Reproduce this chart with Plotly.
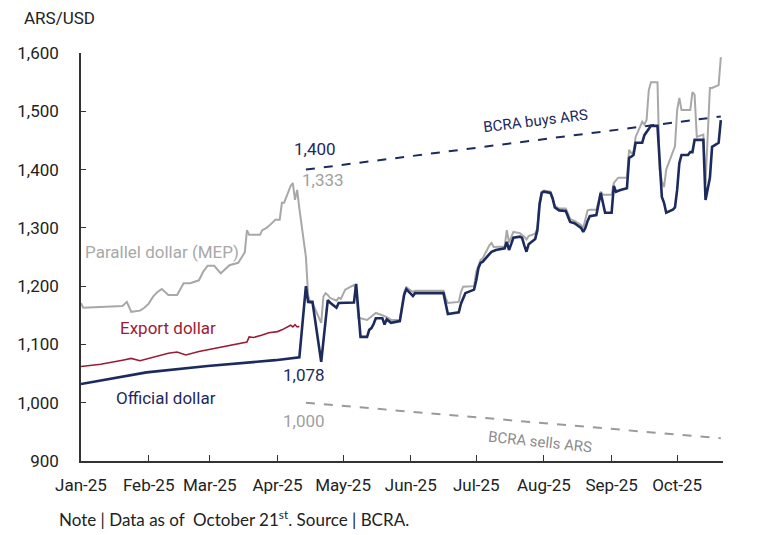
import plotly.graph_objects as go

# official (wholesale) dollar, ARS per USD
official_dates = [
    "2025-01-01", "2025-01-31", "2025-02-28", "2025-03-31", "2025-04-11", "2025-04-14",
    "2025-04-15", "2025-04-17", "2025-04-21", "2025-04-24", "2025-04-25", "2025-04-28",
    "2025-04-29", "2025-05-06", "2025-05-07", "2025-05-09", "2025-05-12", "2025-05-13",
    "2025-05-14", "2025-05-15", "2025-05-16", "2025-05-19", "2025-05-20", "2025-05-21",
    "2025-05-22", "2025-05-23", "2025-05-27", "2025-05-28", "2025-05-29", "2025-05-30",
    "2025-06-02", "2025-06-03", "2025-06-16", "2025-06-17", "2025-06-18", "2025-06-23",
    "2025-06-24", "2025-06-26", "2025-06-30", "2025-07-01", "2025-07-02", "2025-07-03",
    "2025-07-04", "2025-07-07", "2025-07-08", "2025-07-10", "2025-07-14", "2025-07-15",
    "2025-07-16", "2025-07-17", "2025-07-18", "2025-07-21", "2025-07-22", "2025-07-23",
    "2025-07-24", "2025-07-25", "2025-07-28", "2025-07-29", "2025-07-30", "2025-07-31",
    "2025-08-01", "2025-08-04", "2025-08-05", "2025-08-06", "2025-08-08", "2025-08-11",
    "2025-08-12", "2025-08-13", "2025-08-15", "2025-08-18", "2025-08-19", "2025-08-20",
    "2025-08-21", "2025-08-22", "2025-08-25", "2025-08-26", "2025-08-27", "2025-08-28",
    "2025-08-29", "2025-09-01", "2025-09-02", "2025-09-03", "2025-09-05", "2025-09-08",
    "2025-09-09", "2025-09-10", "2025-09-11", "2025-09-12", "2025-09-15", "2025-09-16",
    "2025-09-17", "2025-09-18", "2025-09-19", "2025-09-22", "2025-09-23", "2025-09-24",
    "2025-09-25", "2025-09-26", "2025-09-29", "2025-09-30", "2025-10-01", "2025-10-02",
    "2025-10-03", "2025-10-06", "2025-10-07", "2025-10-08", "2025-10-09", "2025-10-10",
    "2025-10-13", "2025-10-14", "2025-10-15", "2025-10-16", "2025-10-17", "2025-10-20",
    "2025-10-21",
]
official_ars = [
    1032, 1052, 1063, 1073, 1078, 1200,
    1173, 1173, 1070, 1176, 1172, 1163,
    1171, 1172, 1204, 1113, 1113, 1125,
    1128, 1135, 1145, 1145, 1134, 1143,
    1140, 1137, 1140, 1160, 1185, 1195,
    1183, 1188, 1188, 1170, 1152, 1155,
    1170, 1188, 1194, 1210, 1231, 1240,
    1242, 1255, 1259, 1262, 1265, 1276,
    1262, 1272, 1283, 1285, 1283, 1270,
    1259, 1272, 1281, 1296, 1340, 1360,
    1362, 1360, 1350, 1335, 1330, 1329,
    1320, 1310, 1308, 1300, 1293, 1300,
    1312, 1320, 1322, 1345, 1360, 1343,
    1326, 1326, 1372, 1362, 1365, 1368,
    1420, 1422, 1425, 1446, 1446, 1459,
    1465, 1471, 1475, 1475, 1405, 1353,
    1343, 1326, 1331, 1335, 1365, 1411,
    1425, 1425, 1430, 1430, 1451, 1451,
    1451, 1348, 1365, 1386, 1439, 1446,
    1485,
]

# parallel dollar (MEP)
mep_dates = [
    "2025-01-01", "2025-01-02", "2025-01-15", "2025-01-20", "2025-01-22", "2025-01-24",
    "2025-01-28", "2025-01-30", "2025-02-01", "2025-02-03", "2025-02-05", "2025-02-07",
    "2025-02-10", "2025-02-14", "2025-02-17", "2025-02-20", "2025-02-24", "2025-02-26",
    "2025-02-28", "2025-03-03", "2025-03-06", "2025-03-10", "2025-03-14", "2025-03-17",
    "2025-03-18", "2025-03-19", "2025-03-24", "2025-03-25", "2025-03-27", "2025-03-28",
    "2025-03-31", "2025-04-02", "2025-04-03", "2025-04-04", "2025-04-07", "2025-04-08",
    "2025-04-09", "2025-04-10", "2025-04-11", "2025-04-14", "2025-04-15", "2025-04-16",
    "2025-04-17", "2025-04-21", "2025-04-22", "2025-04-23", "2025-04-24", "2025-04-25",
    "2025-04-28", "2025-04-29", "2025-04-30", "2025-05-02", "2025-05-05", "2025-05-06",
    "2025-05-07", "2025-05-08", "2025-05-09", "2025-05-12", "2025-05-14", "2025-05-16",
    "2025-05-19", "2025-05-21", "2025-05-23", "2025-05-27", "2025-05-28", "2025-05-29",
    "2025-05-30", "2025-06-02", "2025-06-03", "2025-06-16", "2025-06-17", "2025-06-18",
    "2025-06-23", "2025-06-24", "2025-06-25", "2025-06-30", "2025-07-01", "2025-07-02",
    "2025-07-03", "2025-07-04", "2025-07-07", "2025-07-08", "2025-07-09", "2025-07-14",
    "2025-07-15", "2025-07-16", "2025-07-17", "2025-07-18", "2025-07-21", "2025-07-23",
    "2025-07-24", "2025-07-25", "2025-07-28", "2025-07-29", "2025-07-30", "2025-07-31",
    "2025-08-01", "2025-08-04", "2025-08-05", "2025-08-06", "2025-08-08", "2025-08-11",
    "2025-08-12", "2025-08-13", "2025-08-15", "2025-08-18", "2025-08-19", "2025-08-20",
    "2025-08-21", "2025-08-22", "2025-08-25", "2025-08-26", "2025-08-27", "2025-08-28",
    "2025-09-01", "2025-09-02", "2025-09-04", "2025-09-08", "2025-09-09", "2025-09-10",
    "2025-09-11", "2025-09-12", "2025-09-15", "2025-09-16", "2025-09-17", "2025-09-18",
    "2025-09-19", "2025-09-22", "2025-09-23", "2025-09-24", "2025-09-25", "2025-09-26",
    "2025-09-29", "2025-09-30", "2025-10-01", "2025-10-02", "2025-10-03", "2025-10-07",
    "2025-10-08", "2025-10-09", "2025-10-10", "2025-10-13", "2025-10-14", "2025-10-15",
    "2025-10-16", "2025-10-17", "2025-10-20", "2025-10-21",
]
mep_ars = [
    1171, 1163, 1165, 1166, 1173, 1156,
    1158, 1163, 1170, 1182, 1190, 1195,
    1185, 1185, 1205, 1205, 1210, 1225,
    1235, 1235, 1222, 1236, 1240, 1258,
    1296, 1288, 1288, 1296, 1300, 1303,
    1314, 1314, 1343, 1343, 1372, 1377,
    1348, 1365, 1333, 1250, 1185, 1171,
    1171, 1137, 1182, 1188, 1185, 1180,
    1175, 1180, 1178, 1194, 1200, 1202,
    1195, 1145, 1145, 1142, 1148, 1154,
    1150, 1147, 1142, 1142, 1168, 1190,
    1198, 1190, 1192, 1192, 1180, 1171,
    1173, 1190, 1199, 1200, 1225, 1236,
    1245, 1248, 1270, 1274, 1267, 1268,
    1296, 1275, 1285, 1293, 1291, 1285,
    1280, 1286, 1290, 1300, 1345, 1362,
    1364, 1362, 1352, 1338, 1333, 1333,
    1325, 1315, 1312, 1305, 1300, 1315,
    1330, 1331, 1331, 1345, 1362, 1357,
    1357, 1377, 1386, 1386, 1434, 1428,
    1430, 1456, 1482, 1477, 1485, 1536,
    1550, 1550, 1400, 1380, 1370, 1400,
    1428, 1440, 1502, 1523, 1502, 1502,
    1533, 1528, 1456, 1460, 1377, 1460,
    1540, 1540, 1545, 1593,
]

# export dollar (blend), until the band regime
export_dates = [
    "2025-01-01", "2025-01-10", "2025-01-20", "2025-01-24", "2025-01-28", "2025-02-03",
    "2025-02-10", "2025-02-14", "2025-02-18", "2025-02-24", "2025-03-03", "2025-03-10",
    "2025-03-14", "2025-03-18", "2025-03-19", "2025-03-21", "2025-03-25", "2025-03-28",
    "2025-04-01", "2025-04-03", "2025-04-07", "2025-04-08", "2025-04-09", "2025-04-10",
    "2025-04-11",
]
export_ars = [
    1062, 1066, 1073, 1076, 1072, 1078,
    1085, 1087, 1082, 1088, 1093, 1097,
    1100, 1104, 1113, 1112, 1116, 1120,
    1122, 1125, 1133, 1130, 1134, 1130,
    1131,
]

# exchange rate band
band_dates = ["2025-04-14", "2025-10-21"]
band_upper = [1400, 1491]
band_lower = [1000, 939]

NAVY = "#1c2a5e"
GREY = "#a8a8a8"
RED = "#9c1c34"
FONT = "Roboto"

fig = go.Figure()

fig.add_trace(go.Scatter(x=band_dates, y=band_lower, mode="lines",
                         line=dict(color="#9a9a9a", width=2, dash="dash")))
fig.add_trace(go.Scatter(x=band_dates, y=band_upper, mode="lines",
                         line=dict(color=NAVY, width=2, dash="dash")))
fig.add_trace(go.Scatter(x=export_dates, y=export_ars, mode="lines",
                         line=dict(color=RED, width=1.6)))
fig.add_trace(go.Scatter(x=mep_dates, y=mep_ars, mode="lines",
                         line=dict(color=GREY, width=2)))
fig.add_trace(go.Scatter(x=official_dates, y=official_ars, mode="lines",
                         line=dict(color=NAVY, width=2.6)))

labels = [
    ("2025-02-07", 1258, "Parallel dollar (MEP)", GREY, 17, 0),
    ("2025-02-10", 1128, "Export dollar", RED, 17, 0),
    ("2025-02-09", 1008, "Official dollar", NAVY, 17, 0),
    ("2025-04-18", 1435, "1,400", NAVY, 17, 0),
    ("2025-04-22", 1382, "1,333", "#a0a0a0", 17, 0),
    ("2025-04-13", 1048, "1,078", NAVY, 17, 0),
    ("2025-04-13", 968, "1,000", "#a0a0a0", 17, 0),
    ("2025-07-28", 1484, "BCRA buys ARS", NAVY, 15, -7),
    ("2025-07-30", 933, "BCRA sells ARS", "#8c8c8c", 15, 6),
]
for x, y, text, color, size, angle in labels:
    fig.add_annotation(x=x, y=y, text=text, showarrow=False, textangle=angle,
                       font=dict(family=FONT, size=size, color=color))

# the page adds an 8px offset, so the frame is set 8px up/left of the target
fig.add_annotation(x=-0.092, y=1.086, xref="paper", yref="paper", text="ARS/USD",
                   showarrow=False, xanchor="left", yanchor="middle",
                   font=dict(family=FONT, size=17, color="#222222"))
fig.add_annotation(x=-0.037, y=-0.142, xref="paper", yref="paper",
                   text="Note | Data as of  October 21<sup>st</sup>. Source | BCRA.",
                   showarrow=False, xanchor="left", yanchor="middle",
                   font=dict(family="Lato", size=17, color="#222222"))

fig.update_layout(
    width=783, height=535,
    margin=dict(l=73, r=68, t=45, b=82),
    paper_bgcolor="white", plot_bgcolor="white",
    showlegend=False,
    font=dict(family=FONT, size=17, color="#222222"),
    xaxis=dict(
        type="date", range=["2025-01-01", "2025-10-22"],
        tick0="2025-01-01", dtick="M1", tickformat="%b-%y",
        showgrid=False, zeroline=False, automargin=False,
        showline=True, linecolor="#333333", linewidth=1.5,
        ticks="inside", ticklen=6, tickcolor="#333333", tickwidth=1.2,
        ticklabelstandoff=8,
    ),
    yaxis=dict(
        range=[900, 1600], dtick=100, tickformat=",",
        showgrid=False, zeroline=False, automargin=False,
        showline=True, linecolor="#333333", linewidth=1.5,
        ticks="inside", ticklen=5, tickcolor="#333333", tickwidth=1.2,
        ticklabelstandoff=17,
    ),
)

fig.write_html("out.html")
